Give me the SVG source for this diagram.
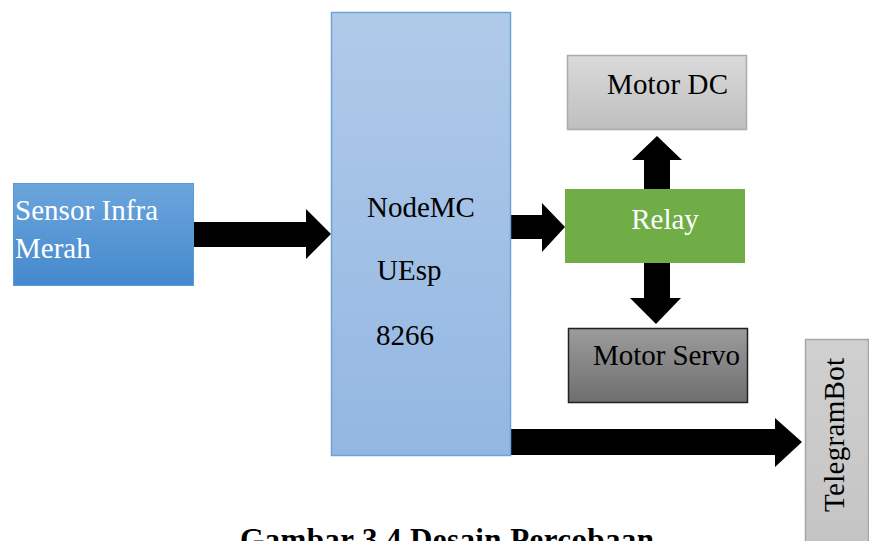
<svg xmlns="http://www.w3.org/2000/svg" width="869" height="541" viewBox="0 0 869 541">
<style>
text{font-family:"Liberation Serif",serif;font-size:29px;font-weight:normal}
.w{fill:#ffffff}
.k{fill:#000000}
.arr{fill:#000000}
.cap{font-weight:bold;font-size:31px}
</style>
<defs>
<linearGradient id="gSensor" x1="0" y1="0" x2="0" y2="1"><stop offset="0" stop-color="#6CA5DD"/><stop offset="1" stop-color="#4489CC"/></linearGradient>
<linearGradient id="gNode" x1="0" y1="0" x2="0" y2="1"><stop offset="0" stop-color="#B0CAE9"/><stop offset="1" stop-color="#93B7E2"/></linearGradient>
<linearGradient id="gDC" x1="0" y1="0" x2="0" y2="1"><stop offset="0" stop-color="#DADADA"/><stop offset="1" stop-color="#BFBFBF"/></linearGradient>
<linearGradient id="gServo" x1="0" y1="0" x2="0" y2="1"><stop offset="0" stop-color="#9C9C9C"/><stop offset="1" stop-color="#6E6E6E"/></linearGradient>
<linearGradient id="gTel" x1="0" y1="0" x2="0" y2="1"><stop offset="0" stop-color="#D0D0D0"/><stop offset="1" stop-color="#C4C4C4"/></linearGradient>
</defs>
<rect width="869" height="541" fill="#ffffff"/>
<g id="connectors">
<polygon class="arr" points="193,222 306,222 306,209 331,234 306,259 306,247 193,247"/>
<polygon class="arr" points="511,215 542,215 542,203 565,227 542,252 542,239 511,239"/>
<polygon class="arr" points="644,189 644,160 632,160 657,136 682,160 670,160 670,189"/>
<polygon class="arr" points="644,263 670,263 670,298 681,298 656,324 630,298 644,298"/>
<polygon class="arr" points="511,429 775,429 775,418 802,442 775,467 775,455 511,455"/>
</g>
<g id="sensor">
<rect x="13.5" y="183.5" width="180" height="102" fill="url(#gSensor)" stroke="#5B9BD5" stroke-width="1"/>
<text class="w" x="15" y="220" textLength="143">Sensor Infra</text>
<text class="w" x="15" y="258">Merah</text>
</g>
<g id="nodemcu">
<rect x="331.5" y="12.5" width="179" height="443" fill="url(#gNode)" stroke="#6FA3D8" stroke-width="1.5"/>
<text class="k" x="367" y="217">NodeMC</text>
<text class="k" x="377" y="280">UEsp</text>
<text class="k" x="376" y="345">8266</text>
</g>
<g id="relay">
<rect x="565" y="189" width="180" height="74" fill="#70AD47"/>
<text class="w" x="665" y="229" text-anchor="middle">Relay</text>
</g>
<g id="motordc">
<rect x="567.5" y="55.5" width="179" height="74" fill="url(#gDC)" stroke="#ABABAB" stroke-width="1.5"/>
<text class="k" x="607" y="94" textLength="121">Motor DC</text>
</g>
<g id="motorservo">
<rect x="568.5" y="328.5" width="179" height="74" fill="url(#gServo)" stroke="#222222" stroke-width="1.5"/>
<text class="k" x="593" y="365" textLength="147">Motor Servo</text>
</g>
<g id="telegrambot">
<rect x="805.5" y="339.5" width="63" height="210" fill="url(#gTel)" stroke="#A6A6A6" stroke-width="1.5"/>
<text class="k" transform="translate(844,512) rotate(-90)" x="0" y="0" textLength="154">TelegramBot</text>
</g>
<text class="k cap" x="240" y="550" textLength="414">Gambar 3.4 Desain Percobaan</text>
</svg>
